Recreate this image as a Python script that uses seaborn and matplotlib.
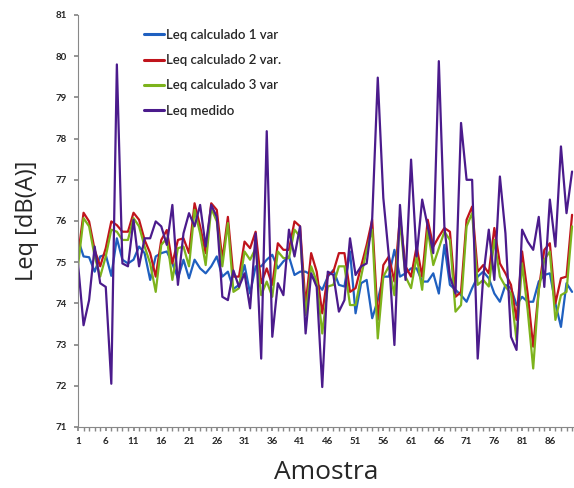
import numpy as np
import pandas as pd
import matplotlib
matplotlib.use("Agg")
import matplotlib.pyplot as plt
import seaborn as sns

amostra = list(range(1, 91))

leq_1var = [75.56, 75.14, 75.12, 74.77, 75.14, 75.18, 74.67, 75.58, 75.06, 74.97,
            75.06, 75.38, 75.22, 74.57, 75.14, 75.22, 75.26, 74.97, 74.61, 75.06,
            74.61, 75.06, 74.85, 74.73, 74.90, 75.14, 74.65, 74.77, 74.35, 74.45,
            74.93, 74.24, 74.90, 74.90, 75.06, 75.18, 74.85, 75.02, 75.14, 74.69,
            74.77, 74.77, 74.69, 74.49, 74.33, 74.65, 74.81, 74.45, 74.41, 75.26,
            73.76, 74.49, 74.57, 73.64, 74.08, 74.65, 74.65, 75.30, 74.65, 74.73,
            74.85, 74.85, 74.53, 74.53, 74.73, 74.24, 75.42, 74.45, 74.33, 74.20,
            74.04, 74.37, 74.65, 74.77, 74.61, 74.24, 74.04, 74.45, 74.37, 73.96,
            74.16, 74.04, 74.04, 74.53, 74.69, 74.73, 74.00, 73.43, 74.49, 74.28]

leq_2var = [75.14, 76.20, 75.99, 75.30, 74.90, 75.34, 75.99, 75.90, 75.74, 75.74,
            76.20, 76.03, 75.54, 75.22, 74.65, 75.54, 75.78, 74.97, 75.54, 75.58,
            75.22, 76.43, 75.87, 75.22, 76.43, 76.27, 75.06, 76.10, 74.65, 74.65,
            75.50, 75.34, 75.74, 74.49, 74.85, 74.45, 75.46, 75.30, 75.30, 75.99,
            75.87, 73.96, 75.22, 74.77, 73.76, 74.69, 74.77, 75.22, 75.22, 74.28,
            74.37, 74.90, 75.42, 76.03, 73.60, 74.93, 75.14, 74.53, 76.10, 74.90,
            74.65, 75.38, 74.65, 76.03, 75.38, 75.62, 75.83, 75.74, 74.16, 74.28,
            76.03, 76.35, 74.77, 74.93, 74.73, 75.83, 74.97, 74.73, 74.45, 73.60,
            75.26, 74.24, 72.95, 74.33, 75.30, 75.46, 74.00, 74.61, 74.65, 76.15]

leq_3var = [74.90, 76.07, 75.87, 75.14, 74.65, 75.14, 75.79, 75.74, 75.54, 75.54,
            76.07, 75.87, 75.38, 74.97, 74.28, 75.42, 75.58, 74.57, 75.34, 75.38,
            74.90, 76.27, 75.70, 74.93, 76.31, 75.99, 74.90, 75.95, 74.28, 74.37,
            75.26, 75.06, 75.34, 74.20, 74.53, 74.16, 75.26, 75.10, 75.10, 75.79,
            75.62, 73.72, 74.90, 74.53, 73.27, 74.41, 74.45, 74.90, 74.90, 73.96,
            73.96, 74.65, 75.30, 75.79, 73.15, 74.65, 74.90, 74.20, 75.99, 74.65,
            74.37, 75.14, 74.33, 75.79, 74.93, 75.34, 75.74, 75.54, 73.80, 73.96,
            75.87, 76.19, 74.45, 74.57, 74.41, 75.54, 74.65, 74.41, 74.24, 73.11,
            74.97, 73.84, 72.42, 74.33, 75.06, 75.26, 73.60, 74.20, 74.28, 75.87]

leq_medido = [74.97, 73.47, 74.08, 75.38, 74.49, 74.40, 72.05, 79.80, 74.97, 74.90,
              76.03, 74.90, 75.58, 75.58, 75.99, 75.87, 75.42, 76.39, 74.45, 75.70,
              76.19, 75.87, 76.39, 75.38, 76.39, 76.10, 74.16, 74.08, 74.80, 74.40,
              74.73, 73.88, 75.70, 72.66, 78.18, 73.19, 74.49, 74.20, 75.79, 75.14,
              75.87, 73.27, 74.73, 74.40, 71.97, 74.77, 74.69, 73.80, 74.08, 75.58,
              74.69, 74.90, 74.97, 76.07, 79.48, 76.56, 75.14, 72.99, 76.39, 74.57,
              77.49, 75.14, 76.52, 75.87, 75.22, 79.88, 75.87, 74.65, 74.24, 78.38,
              77.00, 77.00, 72.66, 74.65, 75.79, 74.57, 77.08, 75.70, 73.19, 72.87,
              75.79, 75.50, 75.30, 76.10, 74.40, 76.52, 75.38, 77.81, 76.19, 77.20]

series_names = ["Leq calculado 1 var", "Leq calculado 2 var.", "Leq calculado 3 var", "Leq medido"]
x_ticks = list(range(1, 90, 5))
y_ticks = list(range(71, 82))

df = pd.DataFrame({
    "Amostra": amostra * 4,
    "Leq": leq_1var + leq_2var + leq_3var + leq_medido,
    "Serie": sum([[n] * len(amostra) for n in series_names], []),
})

sns.set_theme(style="white")
plt.rcParams["font.family"] = ["Lato", "DejaVu Sans"]

fig = plt.figure(figsize=(5.74, 4.88), dpi=100)
ax = fig.add_axes([78 / 574, 61 / 488, 496 / 574, 412 / 488])

palette = {series_names[0]: "#1f60c0", series_names[1]: "#c0141c",
           series_names[2]: "#7db31c", series_names[3]: "#4b1b8c"}
sns.lineplot(data=df, x="Amostra", y="Leq", hue="Serie", palette=palette,
             linewidth=1.6, ax=ax, legend=True)

ax.set_xlim(1, 90.35)
ax.set_ylim(71, 81)
ax.set_yticks(y_ticks)
ax.set_yticklabels([str(v) for v in y_ticks], fontsize=7, fontweight="bold")
ax.set_xticks(x_ticks)
ax.set_xticklabels([str(v) for v in x_ticks], fontsize=7, fontweight="bold")
ax.set_xticks(amostra, minor=True)
ax.tick_params(axis="x", which="both", direction="out", length=3, color="#888888", pad=4, bottom=True)
ax.tick_params(axis="y", which="major", direction="out", length=3, color="#888888", pad=5, left=True)

for s in ["top", "right"]:
    ax.spines[s].set_visible(False)
for s in ["left", "bottom"]:
    ax.spines[s].set_color("#888888")
    ax.spines[s].set_linewidth(0.8)

ax.set_xlabel("Amostra", fontsize=19, family=["Open Sans", "DejaVu Sans"], labelpad=10)
ax.set_ylabel("Leq [dB(A)]", fontsize=17, family=["Open Sans", "DejaVu Sans"], labelpad=12)

leg = ax.legend(loc="upper left", bbox_to_anchor=(0.11, 0.995), frameon=False,
                fontsize=9.5, handlelength=1.5, handletextpad=0.15, labelspacing=1.0)
for line in leg.get_lines():
    line.set_linewidth(2.2)
for t in leg.get_texts():
    t.set_fontweight("semibold")

fig.savefig("out.png", dpi=100)
